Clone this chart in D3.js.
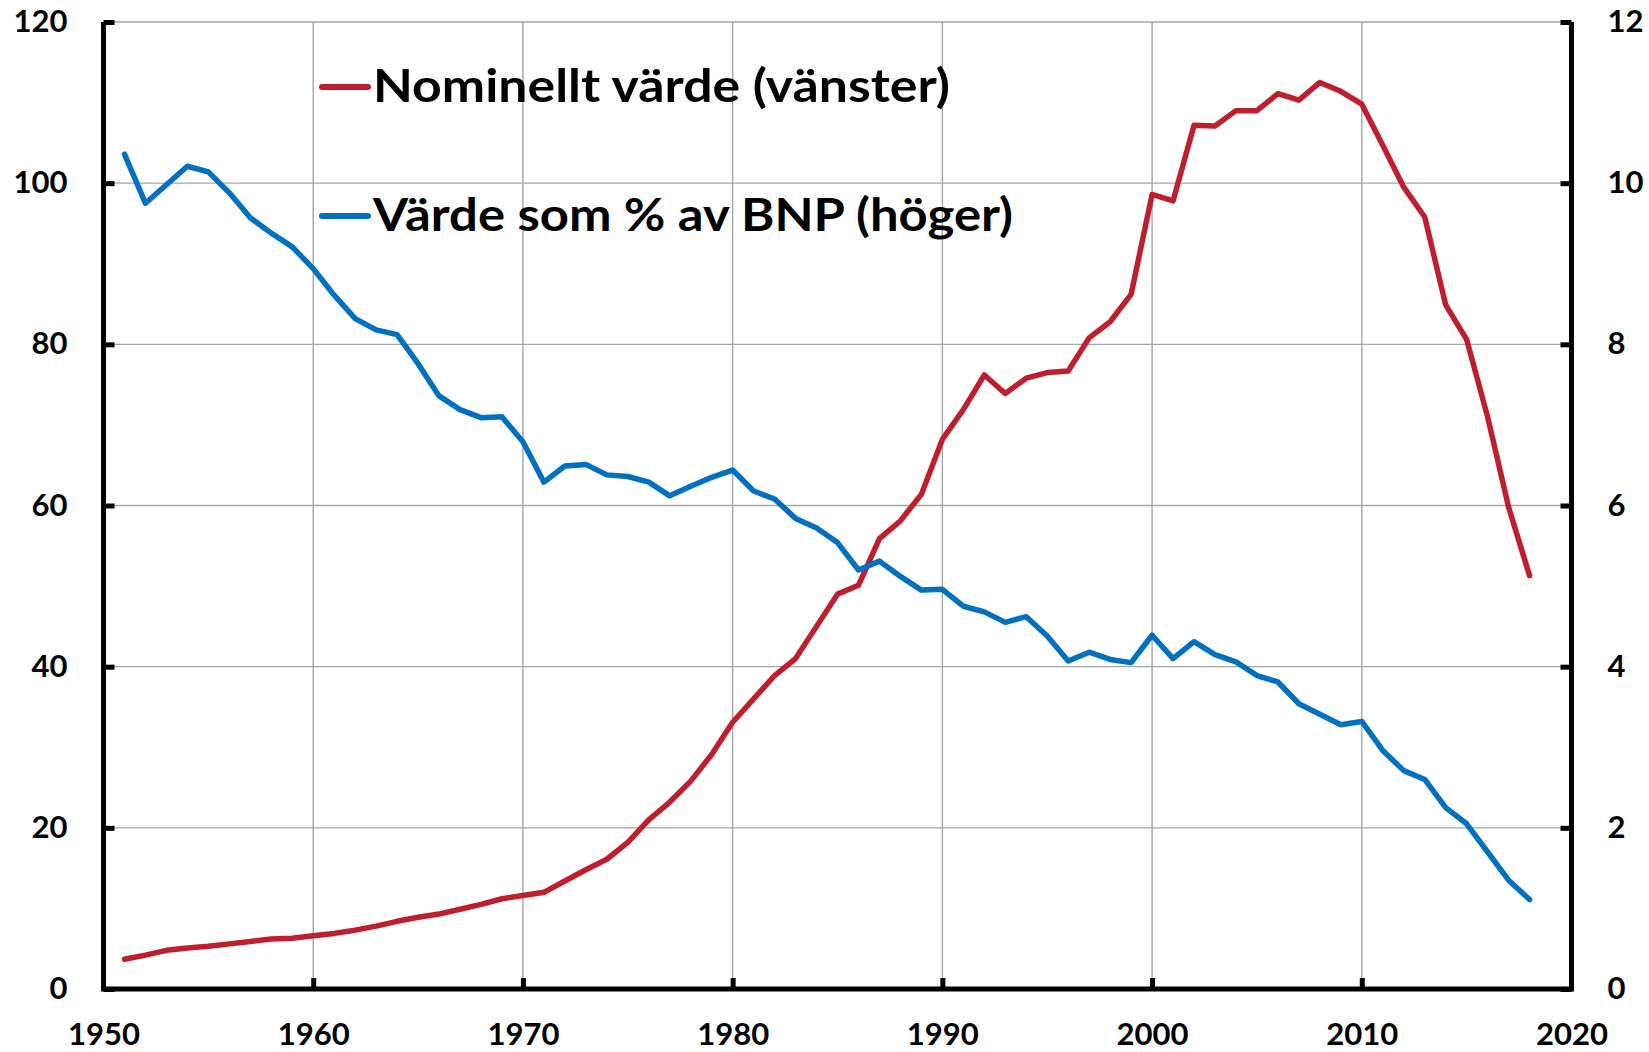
<!DOCTYPE html>
<html>
<head>
<meta charset="utf-8">
<script src="https://cdn.jsdelivr.net/npm/d3@7"></script>
<style>
  html, body { margin: 0; padding: 0; background: #fff; }
  svg { display: block; font-family: Lato, "Open Sans", sans-serif; font-weight: bold; }
</style>
</head>
<body>
<svg id="chart" width="1649" height="1052"></svg>
<script>
const years = [1951, 1952, 1953, 1954, 1955, 1956, 1957, 1958, 1959, 1960,
  1961, 1962, 1963, 1964, 1965, 1966, 1967, 1968, 1969, 1970,
  1971, 1972, 1973, 1974, 1975, 1976, 1977, 1978, 1979, 1980,
  1981, 1982, 1983, 1984, 1985, 1986, 1987, 1988, 1989, 1990,
  1991, 1992, 1993, 1994, 1995, 1996, 1997, 1998, 1999, 2000,
  2001, 2002, 2003, 2004, 2005, 2006, 2007, 2008, 2009, 2010,
  2011, 2012, 2013, 2014, 2015, 2016, 2017, 2018]

// Nominellt värde (vänster axel)
const nominal = [3.7, 4.2, 4.8, 5.1, 5.3, 5.6, 5.9, 6.2, 6.3, 6.6,
  6.9, 7.3, 7.8, 8.4, 8.9, 9.3, 9.9, 10.5, 11.2, 11.6,
  12.0, 13.4, 14.8, 16.1, 18.2, 21.0, 23.2, 25.8, 29.1, 33.1,
  36.0, 38.9, 41.0, 45.0, 49.0, 50.1, 55.9, 58.1, 61.4, 68.2,
  71.9, 76.2, 73.9, 75.8, 76.5, 76.7, 80.8, 82.8, 86.2, 98.6,
  97.8, 107.2, 107.1, 109.0, 109.0, 111.1, 110.3, 112.5, 111.4, 109.8,
  104.7, 99.5, 95.8, 84.9, 80.6, 71.0, 59.8, 51.3]

// Värde som % av BNP (höger axel)
const shareOfGdp = [10.36, 9.75, 9.98, 10.21, 10.14, 9.88, 9.57, 9.38, 9.21, 8.94,
  8.61, 8.32, 8.18, 8.12, 7.76, 7.36, 7.19, 7.09, 7.10, 6.79,
  6.29, 6.49, 6.51, 6.38, 6.36, 6.29, 6.12, 6.24, 6.35, 6.44,
  6.18, 6.08, 5.84, 5.72, 5.54, 5.20, 5.31, 5.12, 4.95, 4.96,
  4.75, 4.68, 4.55, 4.62, 4.38, 4.07, 4.18, 4.09, 4.05, 4.39,
  4.10, 4.31, 4.15, 4.06, 3.89, 3.81, 3.54, 3.41, 3.28, 3.32,
  2.96, 2.71, 2.60, 2.25, 2.05, 1.70, 1.35, 1.11]

const xTicks = [1950, 1960, 1970, 1980, 1990, 2000, 2010, 2020]
const leftTicks = [0, 20, 40, 60, 80, 100, 120]
const rightTicks = [0, 2, 4, 6, 8, 10, 12]

const seriesNames = ['Nominellt värde (vänster)', 'Värde som % av BNP (höger)']
const colors = ['#be1e2d', '#0070c0']

const plotLeft = 103.5, plotRight = 1571.5, plotTop = 22, plotBottom = 989

const svg = d3.select('#chart')

const x = d3.scaleLinear().domain([1950, 2020]).range([plotLeft, plotRight])
const yLeft = d3.scaleLinear().domain([0, 120]).range([plotBottom, plotTop])
const yRight = d3.scaleLinear().domain([0, 12]).range([plotBottom, plotTop])

// grid
const grid = svg.append('g').attr('class', 'grid')
  .attr('stroke', '#a6a6a6')
  .attr('stroke-width', 1.4)

grid.selectAll('line.h')
  .data(leftTicks.filter(d => d > 0))
  .join('line')
  .attr('class', 'h')
  .attr('x1', plotLeft).attr('x2', plotRight)
  .attr('y1', d => yLeft(d)).attr('y2', d => yLeft(d))

grid.selectAll('line.v')
  .data(xTicks.filter(d => d > 1950 && d < 2020))
  .join('line')
  .attr('class', 'v')
  .attr('x1', d => x(d)).attr('x2', d => x(d))
  .attr('y1', plotTop).attr('y2', plotBottom)

// lines
const lineLeft = d3.line()
  .x((d, i) => x(years[i]))
  .y(d => yLeft(d))
const lineRight = d3.line()
  .x((d, i) => x(years[i]))
  .y(d => yRight(d))

svg.append('path')
  .attr('fill', 'none')
  .attr('stroke', colors[0])
  .attr('stroke-width', 5.5)
  .attr('stroke-linejoin', 'round')
  .attr('stroke-linecap', 'round')
  .attr('d', lineLeft(nominal))

svg.append('path')
  .attr('fill', 'none')
  .attr('stroke', colors[1])
  .attr('stroke-width', 5.5)
  .attr('stroke-linejoin', 'round')
  .attr('stroke-linecap', 'round')
  .attr('d', lineRight(shareOfGdp))

// axes
function styleAxis (g) {
  g.select('.domain').remove()
  g.selectAll('.tick line').attr('stroke', '#000').attr('stroke-width', 5)
  g.selectAll('.tick text')
    .attr('fill', '#000')
    .attr('textLength', function () { return this.textContent.length * 18 })
    .attr('lengthAdjust', 'spacingAndGlyphs')
    .style('font-size', '30px')
    .style('font-family', 'Lato, "Open Sans", sans-serif')
    .style('font-weight', 'bold')
}

svg.append('g')
  .attr('transform', `translate(${plotLeft},0)`)
  .call(d3.axisLeft(yLeft).tickValues(leftTicks).tickSizeInner(-11).tickSizeOuter(0).tickPadding(36))
  .call(styleAxis)

svg.append('g')
  .attr('transform', `translate(${plotRight},0)`)
  .call(d3.axisRight(yRight).tickValues(rightTicks).tickSizeInner(-11).tickSizeOuter(0).tickPadding(36))
  .call(styleAxis)

svg.append('g')
  .attr('transform', `translate(0,${plotBottom})`)
  .call(d3.axisBottom(x).tickValues(xTicks).tickFormat(d3.format('d')).tickSizeInner(-11).tickSizeOuter(0).tickPadding(35))
  .call(styleAxis)
  .call(g => g.selectAll('.tick line').filter(d => d === 1950 || d === 2020).remove())

// axis frame lines (left, right, bottom)
svg.append('path')
  .attr('fill', 'none')
  .attr('stroke', '#000')
  .attr('stroke-width', 5)
  .attr('stroke-linejoin', 'miter')
  .attr('d', `M ${plotLeft} ${plotTop} V ${plotBottom} H ${plotRight} V ${plotTop}`)

// legend
const legend = svg.append('g').attr('class', 'legend')
const legendY = [87, 216]
const legendWidth = [577, 640]
seriesNames.forEach((name, i) => {
  legend.append('line')
    .attr('x1', 322).attr('x2', 368)
    .attr('y1', legendY[i]).attr('y2', legendY[i])
    .attr('stroke', colors[i])
    .attr('stroke-width', 6)
    .attr('stroke-linecap', 'round')
  legend.append('text')
    .attr('x', 373)
    .attr('y', legendY[i] + 15)
    .attr('fill', '#000')
    .attr('textLength', legendWidth[i])
    .attr('lengthAdjust', 'spacingAndGlyphs')
    .style('font-size', '45px')
    .text(name)
})
</script>
</body>
</html>
